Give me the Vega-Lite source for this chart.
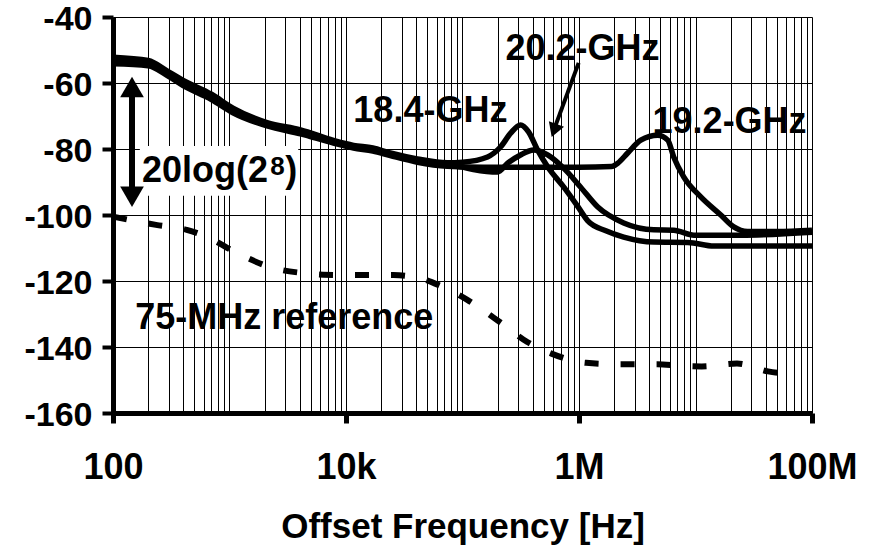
{
  "$schema": "https://vega.github.io/schema/vega-lite/v6.json",
  "autosize": "none",
  "width": 699,
  "height": 396,
  "padding": {"left": 113, "top": 17, "right": 74, "bottom": 136},
  "background": "white",
  "config": {"font": "Liberation Sans", "view": {"stroke": null}},
  "datasets": {
    "curves": [
      {"f": 100, "db": -52.2, "s": "18.4"}, {"f": 200, "db": -53.2, "s": "18.4"}, {"f": 300, "db": -56.6, "s": "18.4"}, {"f": 400, "db": -59.2, "s": "18.4"}, {"f": 700, "db": -63.4, "s": "18.4"}, {"f": 1070, "db": -67.6, "s": "18.4"}, {"f": 2100, "db": -72, "s": "18.4"}, {"f": 4070, "db": -74.2, "s": "18.4"}, {"f": 7800, "db": -77.4, "s": "18.4"}, {"f": 11600, "db": -78.9, "s": "18.4"}, {"f": 17000, "db": -79.7, "s": "18.4"}, {"f": 24000, "db": -81.2, "s": "18.4"}, {"f": 41000, "db": -83, "s": "18.4"}, {"f": 74000, "db": -84.2, "s": "18.4"}, {"f": 100000, "db": -84, "s": "18.4"}, {"f": 164000, "db": -82.4, "s": "18.4"}, {"f": 212000, "db": -79.4, "s": "18.4"}, {"f": 259000, "db": -75.2, "s": "18.4"}, {"f": 315000, "db": -72.7, "s": "18.4"}, {"f": 369000, "db": -74.8, "s": "18.4"}, {"f": 441000, "db": -80.3, "s": "18.4"}, {"f": 538000, "db": -85.4, "s": "18.4"}, {"f": 738000, "db": -91.5, "s": "18.4"}, {"f": 975000, "db": -97.4, "s": "18.4"}, {"f": 1190000, "db": -101.8, "s": "18.4"}, {"f": 1700000, "db": -104.8, "s": "18.4"}, {"f": 2420000, "db": -106.7, "s": "18.4"}, {"f": 4390000, "db": -108.2, "s": "18.4"}, {"f": 8600000, "db": -108.3, "s": "18.4"}, {"f": 14400000, "db": -109.4, "s": "18.4"}, {"f": 100000000, "db": -109.4, "s": "18.4"},
      {"f": 100, "db": -53.2, "s": "20.2"}, {"f": 200, "db": -54, "s": "20.2"}, {"f": 300, "db": -57.3, "s": "20.2"}, {"f": 400, "db": -60, "s": "20.2"}, {"f": 700, "db": -64.2, "s": "20.2"}, {"f": 1070, "db": -68.2, "s": "20.2"}, {"f": 2100, "db": -72.4, "s": "20.2"}, {"f": 4070, "db": -74.8, "s": "20.2"}, {"f": 7800, "db": -77.8, "s": "20.2"}, {"f": 11600, "db": -79.3, "s": "20.2"}, {"f": 17000, "db": -80.2, "s": "20.2"}, {"f": 24000, "db": -81.6, "s": "20.2"}, {"f": 41000, "db": -83.5, "s": "20.2"}, {"f": 74000, "db": -84.8, "s": "20.2"}, {"f": 100000, "db": -85.5, "s": "20.2"}, {"f": 124000, "db": -86.2, "s": "20.2"}, {"f": 200000, "db": -87, "s": "20.2"}, {"f": 244000, "db": -84.3, "s": "20.2"}, {"f": 315000, "db": -81.8, "s": "20.2"}, {"f": 408000, "db": -80.3, "s": "20.2"}, {"f": 538000, "db": -81.8, "s": "20.2"}, {"f": 738000, "db": -85.8, "s": "20.2"}, {"f": 1030000, "db": -91.5, "s": "20.2"}, {"f": 1450000, "db": -97.6, "s": "20.2"}, {"f": 2420000, "db": -102.4, "s": "20.2"}, {"f": 4390000, "db": -104.5, "s": "20.2"}, {"f": 6500000, "db": -104.6, "s": "20.2"}, {"f": 9700000, "db": -106.1, "s": "20.2"}, {"f": 24500000, "db": -106.1, "s": "20.2"}, {"f": 100000000, "db": -105.2, "s": "20.2"},
      {"f": 100, "db": -54.2, "s": "19.2"}, {"f": 200, "db": -54.8, "s": "19.2"}, {"f": 300, "db": -58, "s": "19.2"}, {"f": 400, "db": -60.8, "s": "19.2"}, {"f": 700, "db": -65, "s": "19.2"}, {"f": 1070, "db": -69, "s": "19.2"}, {"f": 2100, "db": -73, "s": "19.2"}, {"f": 4070, "db": -75.4, "s": "19.2"}, {"f": 7800, "db": -78.2, "s": "19.2"}, {"f": 11600, "db": -79.7, "s": "19.2"}, {"f": 17000, "db": -80.6, "s": "19.2"}, {"f": 24000, "db": -82, "s": "19.2"}, {"f": 41000, "db": -84, "s": "19.2"}, {"f": 74000, "db": -85.2, "s": "19.2"}, {"f": 150000, "db": -85.5, "s": "19.2"}, {"f": 500000, "db": -85.5, "s": "19.2"}, {"f": 1000000, "db": -85.5, "s": "19.2"}, {"f": 1900000, "db": -85.3, "s": "19.2"}, {"f": 2150000, "db": -84.3, "s": "19.2"}, {"f": 2620000, "db": -81.2, "s": "19.2"}, {"f": 3390000, "db": -77.3, "s": "19.2"}, {"f": 4750000, "db": -75.8, "s": "19.2"}, {"f": 5780000, "db": -77.3, "s": "19.2"}, {"f": 6500000, "db": -82.4, "s": "19.2"}, {"f": 7940000, "db": -88.5, "s": "19.2"}, {"f": 11100000, "db": -94.5, "s": "19.2"}, {"f": 16500000, "db": -100, "s": "19.2"}, {"f": 21300000, "db": -103.6, "s": "19.2"}, {"f": 28000000, "db": -105, "s": "19.2"}, {"f": 50000000, "db": -105, "s": "19.2"}, {"f": 100000000, "db": -104.6, "s": "19.2"}
    ],
    "ref": [
      {"f": 100, "db": -100.5}, {"f": 234, "db": -103}, {"f": 430, "db": -104.5}, {"f": 645, "db": -106.7}, {"f": 1160, "db": -111.5}, {"f": 2330, "db": -116}, {"f": 4300, "db": -117.6}, {"f": 6370, "db": -118.1}, {"f": 11300, "db": -118.2}, {"f": 25500, "db": -118.2}, {"f": 43500, "db": -119.2}, {"f": 64700, "db": -121.5}, {"f": 110000, "db": -125.7}, {"f": 220000, "db": -133}, {"f": 360000, "db": -138.5}, {"f": 580000, "db": -142}, {"f": 1150000, "db": -144.8}, {"f": 2230000, "db": -145.2}, {"f": 4700000, "db": -145.2}, {"f": 7400000, "db": -145.7}, {"f": 11300000, "db": -145.9}, {"f": 22700000, "db": -145}, {"f": 41900000, "db": -147.4}, {"f": 62000000, "db": -148.2}
    ],
    "labels": [
      {"f": 11560, "db": -71.8, "label": "18.4-GHz"},
      {"f": 234000, "db": -53.0, "label": "20.2-GHz"},
      {"f": 4280000, "db": -75.2, "label": "19.2-GHz"},
      {"f": 177, "db": -90.0, "label": "20log(2"},
      {"f": 3010, "db": -90.0, "label": ")"},
      {"f": 155, "db": -134.5, "label": "75-MHz reference"}
    ]
  },
  "encoding": {
    "x": {
      "field": "f", "type": "quantitative",
      "scale": {"type": "log", "domain": [100, 100000000], "nice": false, "zero": false},
      "axis": {
        "values": [100, 200, 300, 400, 500, 600, 700, 800, 900, 1000, 2000, 3000, 4000, 5000, 6000, 7000, 8000, 9000, 10000, 20000, 30000, 40000, 50000, 60000, 70000, 80000, 90000, 100000, 200000, 300000, 400000, 500000, 600000, 700000, 800000, 900000, 1000000, 2000000, 3000000, 4000000, 5000000, 6000000, 7000000, 8000000, 9000000, 10000000, 20000000, 30000000, 40000000, 50000000, 60000000, 70000000, 80000000, 90000000, 100000000],
        "labelExpr": "datum.value == 100 ? '100' : datum.value == 10000 ? '10k' : datum.value == 1000000 ? '1M' : datum.value == 100000000 ? '100M' : ''",
        "grid": true, "gridColor": "#000", "gridWidth": 1, "gridOpacity": 1,
        "domainColor": "#000", "domainWidth": 5,
        "tickColor": "#000", "tickWidth": 5, "tickSize": 10,
        "tickOpacity": {"condition": {"test": "datum.value == 100 || datum.value == 10000 || datum.value == 1000000 || datum.value == 100000000", "value": 1}, "value": 0},
        "labelFont": "Liberation Sans", "labelFontWeight": "bold", "labelFontSize": 36, "labelColor": "#000",
        "labelPadding": 27, "labelOverlap": false, "labelFlush": false, "labelBound": false,
        "title": "Offset Frequency [Hz]", "titleFont": "Liberation Sans", "titleFontWeight": "bold", "titleFontSize": 35, "titleColor": "#000", "titlePadding": 24
      }
    },
    "y": {
      "field": "db", "type": "quantitative",
      "scale": {"domain": [-160, -40], "nice": false, "zero": false},
      "axis": {
        "values": [-160, -140, -120, -100, -80, -60, -40],
        "labelExpr": "'-' + abs(datum.value)",
        "grid": true, "gridColor": "#000", "gridWidth": 1, "gridOpacity": 1,
        "domainColor": "#000", "domainWidth": 5,
        "tickColor": "#000", "tickWidth": 4, "tickSize": 11,
        "labelFont": "Liberation Sans", "labelFontWeight": "bold", "labelFontSize": 34, "labelColor": "#000",
        "labelPadding": 10, "labelOffset": 2, "labelBound": false, "labelFlush": false, "labelOverlap": false, "title": null
      }
    }
  },
  "layer": [
    {
      "data": {"values": [{"f": 170, "f2": 3890, "db": -79.1, "db2": -94.2}]},
      "mark": {"type": "rect", "color": "white"},
      "encoding": {"x2": {"field": "f2"}, "y2": {"field": "db2"}}
    },
    {
      "data": {"name": "curves"},
      "mark": {"type": "line", "color": "#000", "strokeWidth": 5.5, "interpolate": "monotone", "strokeJoin": "round"},
      "encoding": {"detail": {"field": "s", "type": "nominal"}}
    },
    {
      "data": {"name": "ref"},
      "mark": {"type": "line", "color": "#000", "strokeWidth": 6, "interpolate": "monotone", "strokeDash": [14, 22], "strokeCap": "butt"},
      "encoding": {}
    },
    {
      "data": {"values": [{"f": 145.6, "db": -61, "f2": 145.6, "db2": -94.5}]},
      "mark": {"type": "rule", "color": "#000", "strokeWidth": 6},
      "encoding": {"x2": {"field": "f2"}, "y2": {"field": "db2"}}
    },
    {
      "data": {"values": [{"f": 993000, "db": -53.9, "f2": 618000, "db2": -73.6}]},
      "mark": {"type": "rule", "color": "#000", "strokeWidth": 4},
      "encoding": {"x2": {"field": "f2"}, "y2": {"field": "db2"}}
    },
    {
      "data": {"values": [{"f": 145.6, "db": -61.2}]},
      "mark": {"type": "point", "shape": "triangle-up", "filled": true, "color": "#000", "opacity": 1, "size": 560}
    },
    {
      "data": {"values": [{"f": 145.6, "db": -94.5}]},
      "mark": {"type": "point", "shape": "triangle-down", "filled": true, "color": "#000", "opacity": 1, "size": 560}
    },
    {
      "data": {"values": [{"f": 611000, "db": -74.4}]},
      "mark": {"type": "point", "shape": "triangle-up", "filled": true, "color": "#000", "opacity": 1, "size": 260, "angle": 200}
    },
    {
      "data": {"name": "labels"},
      "mark": {"type": "text", "align": "left", "baseline": "alphabetic", "font": "Liberation Sans", "fontWeight": "bold", "fontSize": 36, "color": "#000"},
      "encoding": {"text": {"field": "label"}}
    },
    {
      "data": {"values": [{"f": 2240, "db": -87.9, "label": "8"}]},
      "mark": {"type": "text", "align": "left", "baseline": "alphabetic", "font": "Liberation Sans", "fontWeight": "bold", "fontSize": 26, "color": "#000"},
      "encoding": {"text": {"field": "label"}}
    }
  ]
}
